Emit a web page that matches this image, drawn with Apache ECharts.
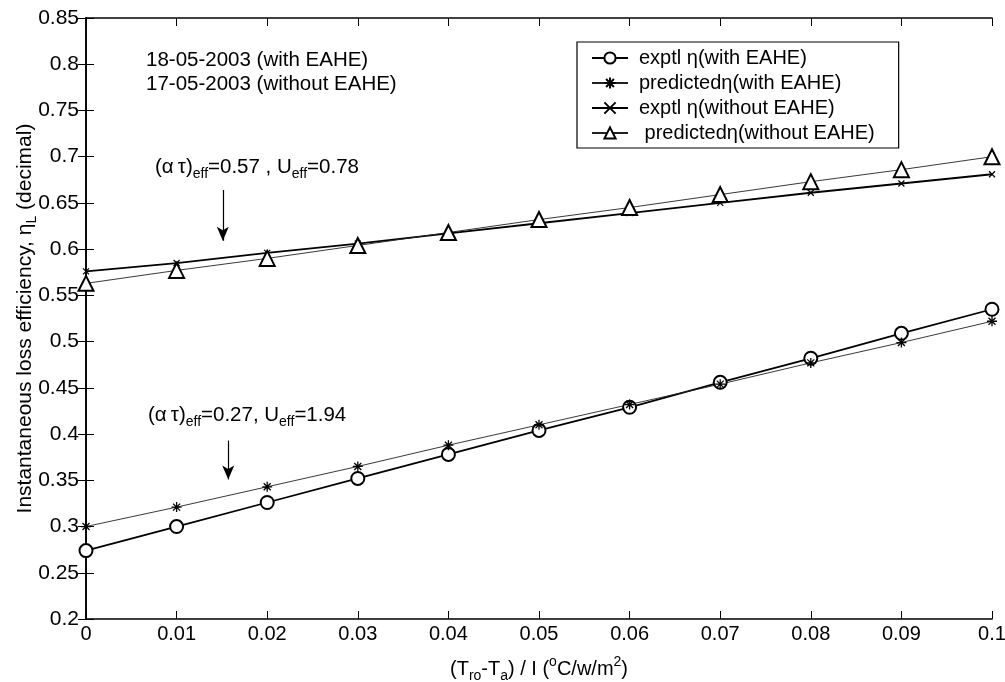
<!DOCTYPE html>
<html style="height: 100%">
<head>
<meta charset="utf-8">
<script src="https://cdn.jsdelivr.net/npm/echarts@6/dist/echarts.min.js"></script>
</head>
<body style="height: 100%; margin: 0; background: #fff">
<div id="container" style="width: 1005px; height: 682px;"></div>
<script>
// x 轴: (Tro-Ta)/I
var xVals = [0, 0.01, 0.02, 0.03, 0.04, 0.05, 0.06, 0.07, 0.08, 0.09, 0.1];
// 下面两条: with EAHE
var exptlWith = [0.274, 0.300, 0.326, 0.352, 0.378, 0.404, 0.429, 0.456, 0.482, 0.509, 0.535];
var predWith = [0.300, 0.321, 0.343, 0.365, 0.388, 0.410, 0.432, 0.454, 0.477, 0.499, 0.522];
// 上面两条: without EAHE
var exptlWithout = [0.576, 0.585, 0.596, 0.606, 0.617, 0.628, 0.639, 0.650, 0.661, 0.671, 0.681];
var predWithout = [0.563, 0.577, 0.590, 0.604, 0.618, 0.632, 0.645, 0.659, 0.673, 0.686, 0.700];
var names = ['exptl \u03b7(with EAHE)', 'predicted\u03b7(with EAHE)', 'exptl \u03b7(without EAHE)', ' predicted\u03b7(without EAHE)'];
// 箭头 (数据坐标)
var arrowTop = [[0.0151, 0.664], [0.0151, 0.609]];
var arrowBottom = [[0.0157, 0.393], [0.0157, 0.351]];

var font = 'Liberation Sans, Arial, sans-serif';

function pairs(ys) {
	var r = [];
	for (var i = 0; i < xVals.length; i++) {
		r.push([xVals[i], ys[i]]);
	}
	return r;
}
function fmt(v) {
	return String(parseFloat(v.toFixed(2)));
}

var starPath = 'path://M0 -10L0 10M-10 0L10 0M-7 -7L7 7M-7 7L7 -7';
var xPath = 'path://M-10 -10L10 10M-10 10L10 -10';

var richSub = {
	sub: { fontSize: 14, fontFamily: font, color: '#000', padding: [14, 0, 0, 0] },
	sup: { fontSize: 14, fontFamily: font, color: '#000', padding: [0, 0, 14, 0] }
};

var axisLine = { show: true, lineStyle: { color: '#000', width: 1.6 } };
var axisTick = { show: true, inside: true, length: 8, lineStyle: { color: '#000', width: 1 } };

var dom = document.getElementById('container');
var myChart = echarts.init(dom);
var option = {
	backgroundColor: '#fff',
	animation: false,
	grid: { left: 86, right: 13, top: 18, bottom: 63, outerBoundsMode: 'none' },
	legend: {
		data: names,
		orient: 'vertical',
		left: 577,
		top: 42,
		itemWidth: 36,
		itemHeight: 14,
		itemGap: 5,
		padding: [6, 24, 5, 14],
		borderColor: '#000',
		borderWidth: 1.2,
		backgroundColor: '#fff',
		textStyle: { fontSize: 20, fontFamily: font, color: '#000', padding: [0, 0, 0, 6] }
	},
	xAxis: [{
		type: 'value',
		min: 0, max: 0.1, interval: 0.01,
		name: '(T{sub|ro}-T{sub|a}) / I ({sup|o}C/w/m{sup|2})',
		nameLocation: 'middle',
		nameGap: 36,
		nameTextStyle: { fontSize: 20, fontFamily: font, color: '#000', rich: richSub },
		axisLine: axisLine,
		axisTick: axisTick,
		splitLine: { show: false },
		axisLabel: { fontSize: 20, fontFamily: font, color: '#000', margin: 5, formatter: fmt }
	}, {
		type: 'value',
		position: 'top',
		min: 0, max: 0.1, interval: 0.01,
		axisLine: axisLine,
		axisTick: axisTick,
		splitLine: { show: false },
		axisLabel: { show: false }
	}],
	yAxis: [{
		type: 'value',
		min: 0.2, max: 0.85, interval: 0.05,
		name: 'Instantaneous loss efficiency, \u03b7{sub|L} (decimal)',
		nameLocation: 'middle',
		nameGap: 47,
		nameMoveOverlap: false,
		nameTextStyle: { fontSize: 21, fontFamily: font, color: '#000', rich: richSub },
		axisLine: axisLine,
		axisTick: axisTick,
		splitLine: { show: false },
		axisLabel: { fontSize: 21, fontFamily: font, color: '#000', margin: 7, formatter: fmt }
	}, {
		type: 'value',
		position: 'right',
		min: 0.2, max: 0.85, interval: 0.05,
		axisLine: axisLine,
		axisTick: axisTick,
		splitLine: { show: false },
		axisLabel: { show: false }
	}],
	graphic: [{
		type: 'text', left: 146, top: 49,
		style: { text: '18-05-2003 (with EAHE)\n17-05-2003 (without EAHE)', fontSize: 20.5, fontFamily: font, fill: '#000', lineHeight: 23.5 }
	}, {
		type: 'text', left: 155, top: 157,
		style: { text: '(\u03b1\u2009\u03c4){sub|eff}=0.57 , U{sub|eff}=0.78', fontSize: 20.5, fontFamily: font, fill: '#000', rich: richSub }
	}, {
		type: 'text', left: 148, top: 405,
		style: { text: '(\u03b1\u2009\u03c4){sub|eff}=0.27, U{sub|eff}=1.94', fontSize: 20.5, fontFamily: font, fill: '#000', rich: richSub }
	}],
	series: [{
		name: names[0],
		type: 'line',
		data: pairs(exptlWith),
		symbol: 'emptyCircle',
		symbolSize: 13,
		itemStyle: { color: '#000', borderColor: '#000', borderWidth: 1.2 },
		lineStyle: { color: '#000', width: 1.8 },
		markLine: {
			silent: true,
			symbol: ['none', 'arrow'],
			symbolSize: [9, 14],
			label: { show: false },
			lineStyle: { color: '#000', width: 1.2, type: 'solid' },
			data: [
				[{ coord: arrowTop[0] }, { coord: arrowTop[1] }],
				[{ coord: arrowBottom[0] }, { coord: arrowBottom[1] }]
			]
		}
	}, {
		name: names[1],
		type: 'line',
		data: pairs(predWith),
		symbol: starPath,
		symbolSize: 10,
		symbolKeepAspect: true,
		itemStyle: { color: '#000', borderColor: '#000', borderWidth: 1.3 },
		lineStyle: { color: '#222', width: 0.9 }
	}, {
		name: names[2],
		type: 'line',
		data: pairs(exptlWithout),
		symbol: xPath,
		symbolSize: 6,
		symbolKeepAspect: true,
		itemStyle: { color: '#000', borderColor: '#000', borderWidth: 1.2 },
		lineStyle: { color: '#000', width: 1.8 }
	}, {
		name: names[3],
		type: 'line',
		data: pairs(predWithout),
		symbol: 'emptyTriangle',
		symbolSize: 15,
		itemStyle: { color: '#000', borderColor: '#000', borderWidth: 1.2 },
		lineStyle: { color: '#222', width: 0.9 }
	}]
};
myChart.setOption(option);
</script>
</body>
</html>
